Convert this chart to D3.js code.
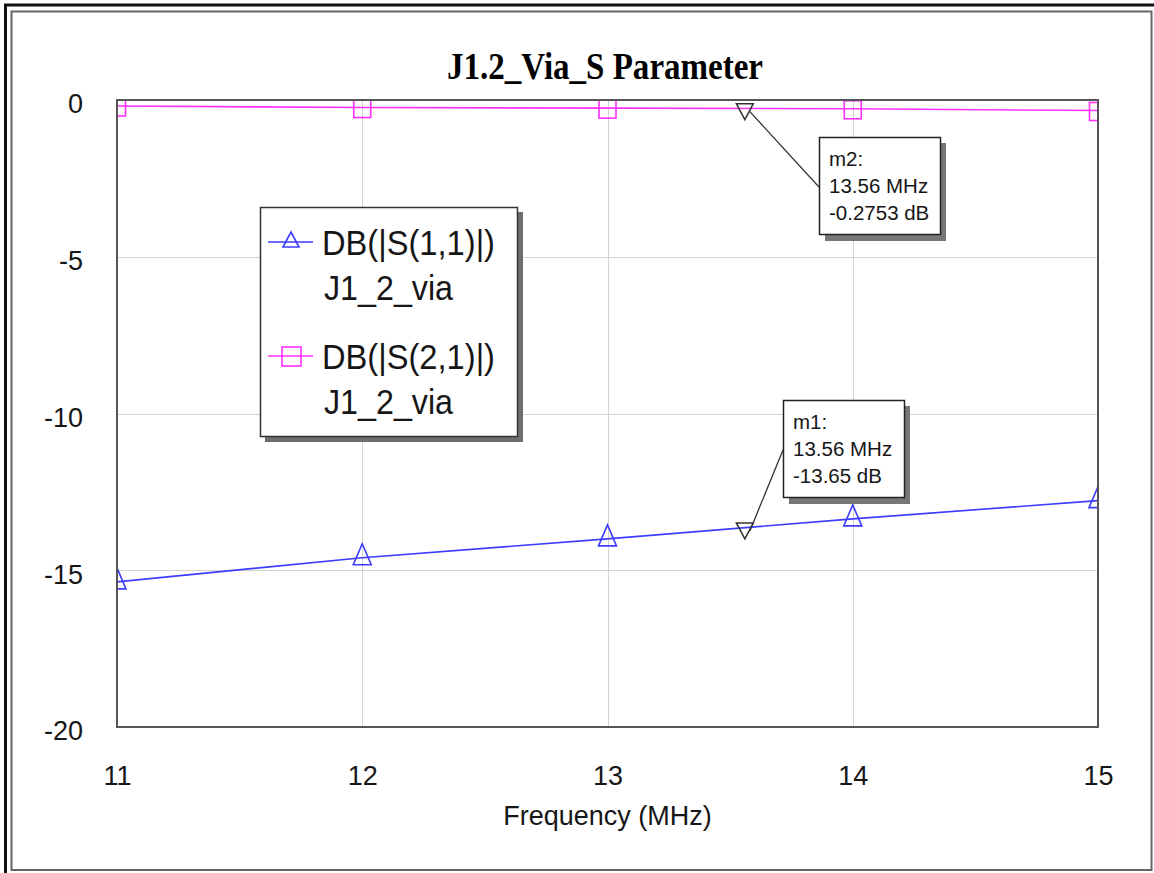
<!DOCTYPE html>
<html>
<head>
<meta charset="utf-8">
<script src="https://cdn.jsdelivr.net/npm/d3@7"></script>
<style>
  body { margin: 0; background: #fff; }
  svg { display: block; }
</style>
</head>
<body>
<svg id="chart" width="1154" height="873"></svg>
<script>
// values
var freqs = [11, 12, 13, 14, 15];
var s11 = [-15.37, -14.6, -14.0, -13.36, -12.78];
var s21 = [-0.19, -0.24, -0.26, -0.28, -0.335];
var xTicks = [11, 12, 13, 14, 15];
var yTicks = [0, -5, -10, -15, -20];
var seriesNames = ["DB(|S(1,1)|)", "DB(|S(2,1)|)"];
var seriesSub = ["J1_2_via", "J1_2_via"];
var markerNames = ["m1", "m2"];
var markerFreq = [13.56, 13.56];
var markerVal = [-13.65, -0.2753];

var BLUE = "#3c3cff", PINK = "#ff30ff", TXT = "#161616";
var SANS = "'Liberation Sans', Arial, sans-serif";

var svg = d3.select("#chart");
var L = 117, T = 100, R = 1098, B = 727;
var x = d3.scaleLinear().domain([11, 15]).range([L, R]);
var y = d3.scaleLinear().domain([-20, 0]).range([B, T]);

// page frame
svg.append("line").attr("x1", 4).attr("x2", 1154).attr("y1", 5).attr("y2", 5)
  .attr("stroke", "#111").attr("stroke-width", 3);
svg.append("line").attr("x1", 5.5).attr("x2", 5.5).attr("y1", 4).attr("y2", 873)
  .attr("stroke", "#111").attr("stroke-width", 3);
svg.append("rect").attr("x", 11.5).attr("y", 11.5).attr("width", 1140).attr("height", 858.5)
  .attr("fill", "none").attr("stroke", "#666").attr("stroke-width", 2);

// title
svg.append("text")
  .attr("x", 447).attr("y", 79)
  .attr("textLength", 316).attr("lengthAdjust", "spacingAndGlyphs")
  .style("font-family", "'Liberation Serif', 'Times New Roman', serif")
  .style("font-weight", "bold").style("font-size", "38px")
  .attr("fill", "#000")
  .text("J1.2_Via_S Parameter");

// grid
var grid = svg.append("g").attr("stroke", "#d4d4d4").attr("stroke-width", 1);
grid.selectAll(".gx").data(xTicks.slice(1, -1)).enter().append("line")
  .attr("x1", function(d){ return Math.round(x(d)) + 0.5; })
  .attr("x2", function(d){ return Math.round(x(d)) + 0.5; })
  .attr("y1", T).attr("y2", B);
grid.selectAll(".gy").data(yTicks.slice(1, -1)).enter().append("line")
  .attr("y1", function(d){ return Math.round(y(d)) + 0.5; })
  .attr("y2", function(d){ return Math.round(y(d)) + 0.5; })
  .attr("x1", L).attr("x2", R);

// axes (labels only)
var plain = function(d){ return String(d); };
var xAxis = svg.append("g").attr("transform", "translate(0," + B + ")")
  .call(d3.axisBottom(x).tickValues(xTicks).tickSize(0).tickPadding(0).tickFormat(plain));
xAxis.select(".domain").remove();
xAxis.selectAll("text").attr("y", 58).attr("dy", null)
  .attr("fill", TXT).style("font-family", SANS).style("font-size", "27px");

var yAxis = svg.append("g").attr("transform", "translate(" + L + ",0)")
  .call(d3.axisLeft(y).tickValues(yTicks).tickSize(0).tickPadding(34).tickFormat(plain));
yAxis.select(".domain").remove();
yAxis.selectAll("text").attr("dy", "0.48em")
  .attr("fill", TXT).style("font-family", SANS).style("font-size", "27px");

svg.append("text")
  .attr("x", 607.5).attr("y", 825).attr("text-anchor", "middle")
  .attr("fill", TXT).style("font-family", SANS).style("font-size", "27px")
  .text("Frequency (MHz)");

// plot clip
svg.append("clipPath").attr("id", "plotclip")
  .append("rect").attr("x", L).attr("y", T).attr("width", R - L).attr("height", B - T);
var plot = svg.append("g").attr("clip-path", "url(#plotclip)");

var line = d3.line().x(function(d){ return x(d[0]); }).y(function(d){ return y(d[1]); });
var d11 = d3.zip(freqs, s11), d21 = d3.zip(freqs, s21);

plot.append("path").datum(d21).attr("d", line)
  .attr("fill", "none").attr("stroke", PINK).attr("stroke-width", 1.6);
plot.append("path").datum(d11).attr("d", line)
  .attr("fill", "none").attr("stroke", BLUE).attr("stroke-width", 1.6);

function triPath(cx, cy) {
  return "M" + cx + "," + (cy - 14) + "L" + (cx + 9) + "," + (cy + 7) + "L" + (cx - 9) + "," + (cy + 7) + "Z";
}
plot.selectAll(".tri").data(d11).enter().append("path")
  .attr("d", function(d){ return triPath(x(d[0]), y(d[1])); })
  .attr("fill", "none").attr("stroke", BLUE).attr("stroke-width", 1.6);
plot.selectAll(".sq").data(d21).enter().append("rect")
  .attr("x", function(d){ return x(d[0]) - 8.5; })
  .attr("y", function(d){ return y(d[1]) - 8; })
  .attr("width", 17).attr("height", 18)
  .attr("fill", "none").attr("stroke", PINK).attr("stroke-width", 1.6);

// plot border
svg.append("rect").attr("x", L).attr("y", T).attr("width", R - L).attr("height", B - T)
  .attr("fill", "none").attr("stroke", "#555").attr("stroke-width", 2);

// legend
var lg = svg.append("g");
lg.append("rect").attr("x", 265).attr("y", 212).attr("width", 258).attr("height", 230).attr("fill", "#6e6e6e");
lg.append("rect").attr("x", 260.5).attr("y", 207.5).attr("width", 257).attr("height", 229)
  .attr("fill", "#fff").attr("stroke", "#333").attr("stroke-width", 1.5);
var legY = [242, 356];
var legCol = [BLUE, PINK];
seriesNames.forEach(function(name, i){
  var ly = legY[i];
  lg.append("line").attr("x1", 268).attr("x2", 313).attr("y1", ly).attr("y2", ly)
    .attr("stroke", legCol[i]).attr("stroke-width", 1.6);
  if (i === 0) {
    lg.append("path").attr("d", "M291," + (ly - 10) + "L299," + (ly + 5) + "L283," + (ly + 5) + "Z")
      .attr("fill", "none").attr("stroke", BLUE).attr("stroke-width", 1.6);
  } else {
    lg.append("rect").attr("x", 282).attr("y", ly - 9).attr("width", 19).attr("height", 19)
      .attr("fill", "none").attr("stroke", PINK).attr("stroke-width", 1.6);
  }
  lg.append("text").attr("x", 322).attr("y", ly + 13)
    .attr("textLength", 173).attr("lengthAdjust", "spacingAndGlyphs")
    .attr("fill", TXT).style("font-family", SANS).style("font-size", "35px")
    .text(name);
  lg.append("text").attr("x", 324).attr("y", ly + 58)
    .attr("textLength", 129).attr("lengthAdjust", "spacingAndGlyphs")
    .attr("fill", TXT).style("font-family", SANS).style("font-size", "35px")
    .text(seriesSub[i]);
});

// markers
var boxes = [{x: 783, y: 400}, {x: 819, y: 137}];
markerNames.forEach(function(m, i){
  var mx = x(markerFreq[i]), my = y(markerVal[i]);
  var b = boxes[i];
  var g = svg.append("g");
  g.append("path")
    .attr("d", "M" + (mx - 8.5) + "," + (my - 5) + "L" + (mx + 8.5) + "," + (my - 5) + "L" + mx + "," + (my + 11) + "Z")
    .attr("fill", "none").attr("stroke", "#333").attr("stroke-width", 1.5);
  g.append("line").attr("x1", mx + 5).attr("y1", my + 3).attr("x2", b.x).attr("y2", b.y + 50)
    .attr("stroke", "#333").attr("stroke-width", 1.3);
  g.append("rect").attr("x", b.x + 6).attr("y", b.y + 6).attr("width", 121).attr("height", 98).attr("fill", "#777");
  g.append("rect").attr("x", b.x + 0.5).attr("y", b.y + 0.5).attr("width", 121).attr("height", 97)
    .attr("fill", "#fff").attr("stroke", "#222").attr("stroke-width", 1.5);
  var lines = [m + ":", markerFreq[i] + " MHz", markerVal[i] + " dB"];
  lines.forEach(function(t, k){
    g.append("text").attr("x", b.x + 10).attr("y", b.y + 29 + k * 27)
      .attr("fill", TXT).style("font-family", SANS).style("font-size", "20.5px")
      .text(t);
  });
});
</script>
</body>
</html>
